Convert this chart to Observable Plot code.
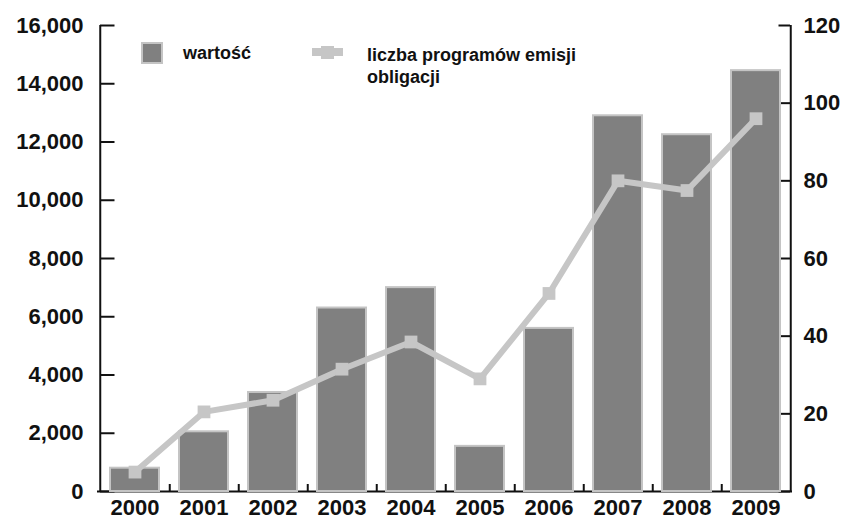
<!DOCTYPE html>
<html><head><meta charset="utf-8">
<script src="https://cdn.jsdelivr.net/npm/d3@7"></script>
<script src="https://cdn.jsdelivr.net/npm/@observablehq/plot@0.6"></script>
<style>body{margin:0;background:#fff} #chart{width:846px;height:519px}</style>
</head><body><div id="chart"></div>
<script>
const years = ["2000","2001","2002","2003","2004","2005","2006","2007","2008","2009"];
const values = [800, 2050, 3400, 6300, 7000, 1550, 5600, 12900, 12250, 14450];
const programs = [5, 20.5, 23.5, 31.5, 38.5, 29, 51, 80, 77.5, 96];
const leftTicks = [0, 2000, 4000, 6000, 8000, 10000, 12000, 14000, 16000];
const rightTicks = [0, 20, 40, 60, 80, 100, 120];
const seriesNames = ["wartość", "liczba programów emisji", "obligacji"];

const K = 16000 / 120;
const data = years.map((year, i) => ({year, value: values[i], count: programs[i]}));
const font = "'Liberation Sans', Arial, sans-serif";
const ink = "#111";
const barFill = "#808080";
const barStroke = "#c4c4c4";
const lineColor = "#c6c6c6";
const W = 846, H = 519, ML = 97, MR = 54, MT = 25, MB = 28;
const step = (W - ML - MR) / years.length;
const half = step / 2;
const plotH = H - MT - MB;

const plot = Plot.plot({
  width: W, height: H,
  marginLeft: ML, marginRight: MR, marginTop: MT, marginBottom: MB,
  style: {fontFamily: font, fontWeight: "bold", fontSize: "22px", color: ink, background: "#fff", overflow: "visible"},
  x: {domain: years, paddingInner: 0, paddingOuter: 0, label: null},
  y: {domain: [0, 16000], label: null},
  marks: [
    Plot.ruleY([0], {stroke: ink, strokeWidth: 2}),
    Plot.ruleX([years[0]], {dx: -half, stroke: ink, strokeWidth: 2}),
    Plot.ruleX([years[years.length - 1]], {dx: half, stroke: ink, strokeWidth: 2}),
    Plot.tickY(leftTicks, {y: d => d, x: () => years[0], insetRight: step - 15, stroke: ink, strokeWidth: 2}),
    Plot.tickY(rightTicks, {y: d => d * K, x: () => years[years.length - 1], insetLeft: step - 12, stroke: ink, strokeWidth: 2}),
    Plot.ruleX(years.slice(0, -1), {x: d => d, dx: half, insetTop: plotH - 7, stroke: ink, strokeWidth: 2}),
    Plot.axisY(leftTicks, {anchor: "left", tickSize: 0, tickPadding: 14, tickFormat: d3.format(","), fontSize: 22, fontWeight: "bold", fill: ink, label: null}),
    Plot.axisY(rightTicks.map(v => v * K), {anchor: "right", tickSize: 0, tickPadding: 11, tickFormat: d => Math.round(d / K), fontSize: 22, fontWeight: "bold", fill: ink, label: null}),
    Plot.axisX({anchor: "bottom", tickSize: 0, tickPadding: 8, fontSize: 22, fontWeight: "bold", fill: ink, label: null}),
    Plot.barY(data, {x: "year", y: "value", fill: barFill, stroke: barStroke, strokeWidth: 2, insetLeft: 10, insetRight: 10}),
    Plot.line(data, {x: "year", y: d => d.count * K, stroke: lineColor, strokeWidth: 6}),
    Plot.dot(data, {x: "year", y: d => d.count * K, symbol: "square", r: 7.2, fill: lineColor, stroke: "none"})
  ]
});
document.getElementById("chart").appendChild(plot);

const svg = d3.select(plot);
const lg = svg.append("g").attr("font-family", font).attr("font-weight", "bold").attr("font-size", 18).attr("fill", ink).attr("text-anchor", "start");
lg.append("rect").attr("x", 142).attr("y", 43).attr("width", 20).attr("height", 20).attr("fill", barFill).attr("stroke", barStroke).attr("stroke-width", 2);
lg.append("text").attr("x", 183).attr("y", 59).text(seriesNames[0]);
lg.append("line").attr("x1", 312).attr("x2", 343).attr("y1", 52).attr("y2", 52).attr("stroke", lineColor).attr("stroke-width", 8);
lg.append("rect").attr("x", 321).attr("y", 46).attr("width", 13).attr("height", 13).attr("fill", lineColor);
lg.append("text").attr("x", 367).attr("y", 61).text(seriesNames[1]);
lg.append("text").attr("x", 367).attr("y", 83).text(seriesNames[2]);
</script>
</body></html>
